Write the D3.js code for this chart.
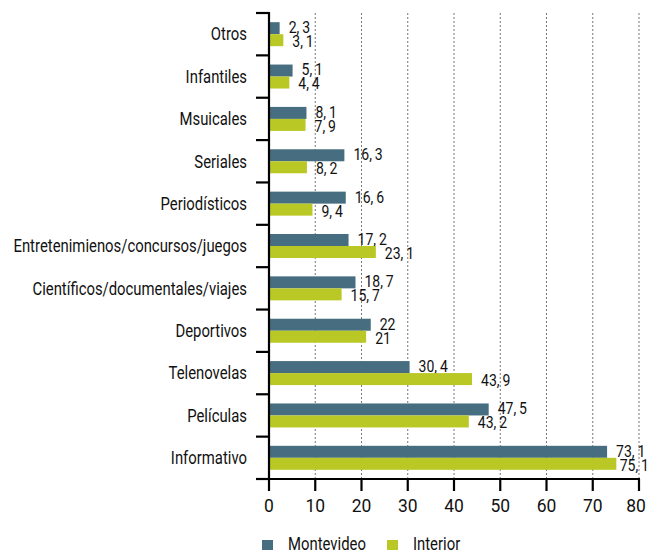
<!DOCTYPE html>
<html>
<head>
<meta charset="utf-8">
<script src="https://cdn.jsdelivr.net/npm/d3@7"></script>
<style>
  html, body { margin: 0; padding: 0; background: #fff; }
  text { font-family: "Roboto", "Liberation Sans", sans-serif; fill: #111; }
</style>
</head>
<body>
<svg id="chart" width="651" height="553"></svg>
<script>
const categories = ["Otros", "Infantiles", "Msuicales", "Seriales", "Periodísticos",
  "Entretenimienos/concursos/juegos", "Científicos/documentales/viajes", "Deportivos",
  "Telenovelas", "Películas", "Informativo"];
const montevideo = [2.3, 5.1, 8.1, 16.3, 16.6, 17.2, 18.7, 22, 30.4, 47.5, 73.1];
const interior   = [3.1, 4.4, 7.9, 8.2, 9.4, 23.1, 15.7, 21, 43.9, 43.2, 75.1];
const seriesNames = ["Montevideo", "Interior"];
const seriesColors = ["#466e80", "#b9c824"];
const xTicks = [0, 10, 20, 30, 40, 50, 60, 70, 80];

const svg = d3.select("#chart");
const W = 651, H = 553;
const margin = { left: 269, right: 12, top: 13, bottom: 74 };

const x = d3.scaleLinear().domain([0, 80]).range([margin.left, W - margin.right]);
const y = d3.scaleBand().domain(categories).range([margin.top, H - margin.bottom]);
const barH = 12;
const COND = 0.85; // horizontal squeeze for a condensed look

// places condensed text at (px, py)
function ctext(sel, px, py, sx) {
  return sel.append("text").attr("transform", `translate(${px},${py}) scale(${sx},1)`);
}

const fmt = v => String(v).replace(".", ",\u2009");

// dashed gridlines
svg.append("g").selectAll("line").data(xTicks.filter(t => t > 0)).join("line")
  .attr("x1", d => x(d)).attr("x2", d => x(d))
  .attr("y1", margin.top).attr("y2", H - margin.bottom)
  .attr("stroke", "#777").attr("stroke-width", 1).attr("stroke-dasharray", "2,2");

// bars and value labels
[montevideo, interior].forEach((vals, si) => {
  const g = svg.append("g");
  vals.forEach((v, i) => {
    const top = y(categories[i]) + y.bandwidth() / 2 - barH + si * barH;
    g.append("rect")
      .attr("x", x(0)).attr("y", top)
      .attr("width", x(v) - x(0)).attr("height", barH)
      .attr("fill", seriesColors[si]);
    const ly = top + barH / 2 + (si === 0 ? -1 : 1);
    const t = ctext(g, x(v) + 9, ly, COND)
      .attr("dy", "0.36em").attr("font-size", 16.5).text(fmt(v));
    // keep the label inside the drawing
    const w = t.node().getComputedTextLength() * COND;
    const lx = Math.min(x(v) + 9, W - 2 - w);
    t.attr("transform", `translate(${lx},${ly}) scale(${COND},1)`);
  });
});

// y axis
const yAxis = svg.append("g");
yAxis.append("line").attr("x1", x(0)).attr("x2", x(0))
  .attr("y1", margin.top - 1).attr("y2", H - margin.bottom + 1)
  .attr("stroke", "#000").attr("stroke-width", 2.2);
const boundaries = categories.map(c => y(c)).concat([H - margin.bottom]);
yAxis.selectAll("line.tk").data(boundaries).join("line").attr("class", "tk")
  .attr("x1", x(0) - 13).attr("x2", x(0)).attr("y1", d => d).attr("y2", d => d)
  .attr("stroke", "#000").attr("stroke-width", 2.2);
categories.forEach(c => {
  ctext(yAxis, 247, y(c) + y.bandwidth() / 2, COND)
    .attr("dy", "0.36em").attr("text-anchor", "end")
    .attr("font-size", 17.5).text(c);
});

// x axis
const xAxis = svg.append("g");
const x0 = H - margin.bottom;
xAxis.append("line").attr("x1", x(0) - 13).attr("x2", x(80) + 1)
  .attr("y1", x0).attr("y2", x0)
  .attr("stroke", "#000").attr("stroke-width", 2.2);
xAxis.selectAll("line.tk").data(xTicks).join("line").attr("class", "tk")
  .attr("x1", d => x(d)).attr("x2", d => x(d)).attr("y1", x0).attr("y2", x0 + 12)
  .attr("stroke", "#000").attr("stroke-width", 2.2);
xTicks.forEach(t => {
  ctext(xAxis, x(t) - (t === 80 ? 3 : 0), 512, 0.92)
    .attr("text-anchor", "middle").attr("font-size", 19).text(t);
});

// legend
const legend = svg.append("g");
const legendX = [262, 387];
seriesNames.forEach((name, i) => {
  legend.append("rect").attr("x", legendX[i]).attr("y", 540)
    .attr("width", 11).attr("height", 10).attr("fill", seriesColors[i]);
  ctext(legend, legendX[i] + 26, 550, COND)
    .attr("font-size", 17.5).text(name);
});
</script>
</body>
</html>
